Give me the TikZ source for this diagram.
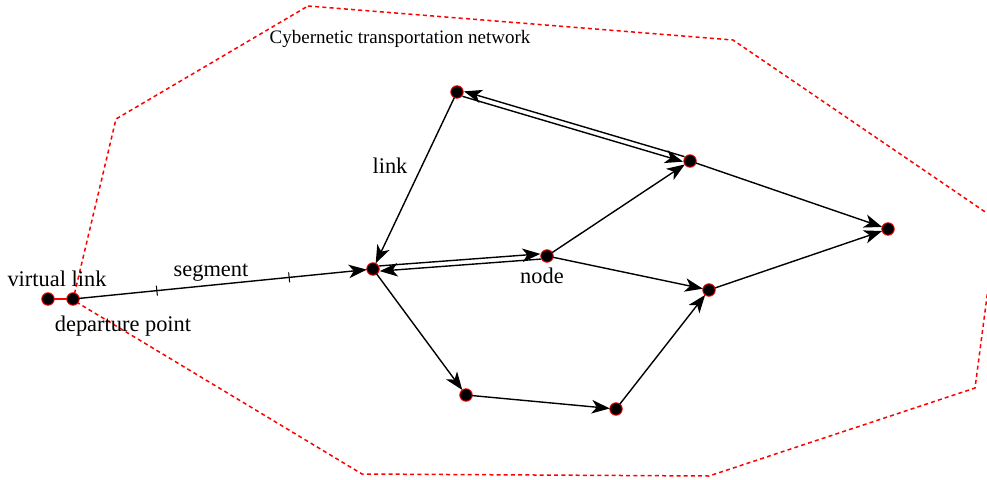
\documentclass[tikz,border=0pt]{standalone}
\usepackage{fontspec}
\setmainfont{Liberation Serif}
\usetikzlibrary{arrows.meta,calc}

\tikzset{
  vertex/.style={circle, fill=black, draw=red, line width=0.9pt, minimum size=12.5pt, inner sep=0pt, outer sep=0pt},
  arr/.style={draw=black, line width=1.4pt, -{Stealth[length=18pt,width=13.5pt,inset=5pt]}},
  offarr/.style={arr, shorten <=6.5pt, shorten >=6.5pt},
  hull/.style={draw=red, line width=1.5pt, dash pattern=on 4pt off 3.2pt},
  vlink/.style={draw=red, line width=2.8pt},
  tick/.style={draw=black, line width=1pt},
  lbl/.style={font=\fontsize{22.4}{26}\selectfont, anchor=base, inner sep=0pt},
  title/.style={font=\fontsize{19}{22}\selectfont, anchor=base, inner sep=0pt}
}

\begin{document}
\begin{tikzpicture}[x=1pt, y=-1pt]
  \useasboundingbox (0,0) rectangle (987,479);

  % boundary of the network area
  \begin{scope}
    \clip (0,0) rectangle (987,479);
    \draw[hull] (308,6) -- (733,40) -- (997,220) -- (975,388) -- (709,476)
      -- (362,474) -- (73,300) -- (116,119) -- cycle;
  \end{scope}

  % nodes
  \node[vertex] (V) at (48,299) {};
  \node[vertex] (D) at (73,299) {};
  \node[vertex] (A) at (373,269) {};
  \node[vertex] (B) at (547,256) {};
  \node[vertex] (T) at (457,92) {};
  \node[vertex] (R) at (690,161) {};
  \node[vertex] (E) at (888,229) {};
  \node[vertex] (F) at (709,290) {};
  \node[vertex] (G) at (466,395) {};
  \node[vertex] (H) at (616,409) {};

  % virtual link
  \draw[vlink] (V) -- (D);

  % segment with tick marks
  \draw[arr] (D) -- (A)
    coordinate[pos=0.27] (t1) coordinate[pos=0.73] (t2);
  \draw[tick] ($(t1)!5pt!90:(A)$) -- ($(t1)!5pt!-90:(A)$);
  \draw[tick] ($(t2)!5pt!90:(A)$) -- ($(t2)!5pt!-90:(A)$);

  % single links
  \draw[arr] (T) -- (A);
  \draw[arr] (B) -- (R);
  \draw[arr] (B) -- (F);
  \draw[arr] (R) -- (E);
  \draw[arr] (F) -- (E);
  \draw[arr] (A) -- (G);
  \draw[arr] (G) -- (H);
  \draw[arr] (H) -- (F);

  % two-way links
  \draw[offarr] ($(R)!2.6pt!-90:(T)$) -- ($(T)!2.6pt!90:(R)$);
  \draw[offarr] ($(T)!2.6pt!-90:(R)$) -- ($(R)!2.6pt!90:(T)$);
  \draw[offarr] ($(A)!2.6pt!90:(B)$) -- ($(B)!2.6pt!-90:(A)$);
  \draw[offarr] ($(B)!2.6pt!90:(A)$) -- ($(A)!2.6pt!-90:(B)$);

  % labels
  \node[title] (ttl) at (400,43) {Cybernetic transportation network};
  \node[lbl] (lv) at (57,286) {virtual link};
  \node[lbl] (ls) at (211,276) {segment};
  \node[lbl] (ld) at (123,331) {departure point};
  \node[lbl] (ll) at (390,173) {link};
  \node[lbl] (ln) at (542,283) {node};
\end{tikzpicture}
\end{document}
